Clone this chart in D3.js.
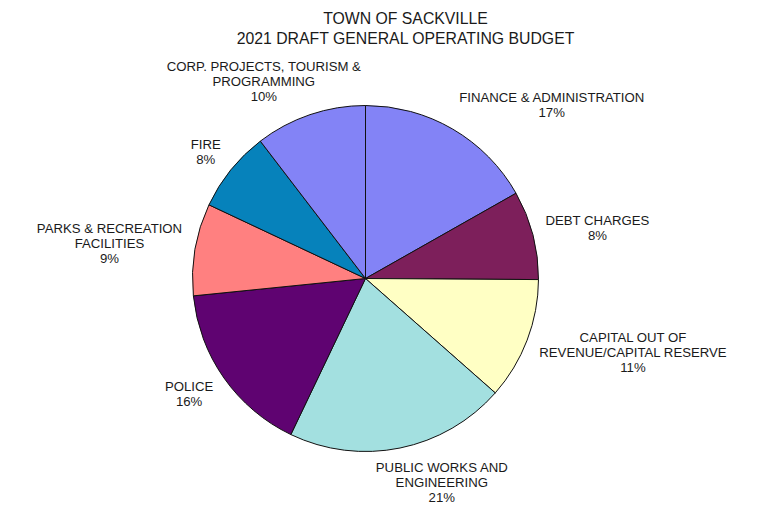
<!DOCTYPE html>
<html>
<head>
<meta charset="utf-8">
<script src="https://cdn.jsdelivr.net/npm/d3@7"></script>
<style>
  html, body { margin: 0; padding: 0; background: #fff; }
  svg { display: block; }
  text { font-family: "Liberation Sans", Arial, sans-serif; fill: #1a1a1a; }
</style>
</head>
<body>
<svg id="chart" width="768" height="525"></svg>
<script>
// ---- data ----
const titleLines = ["TOWN OF SACKVILLE", "2021 DRAFT GENERAL OPERATING BUDGET"];
const categories = [
  "FINANCE & ADMINISTRATION",
  "DEBT CHARGES",
  "CAPITAL OUT OF REVENUE/CAPITAL RESERVE",
  "PUBLIC WORKS AND ENGINEERING",
  "POLICE",
  "PARKS & RECREATION FACILITIES",
  "FIRE",
  "CORP. PROJECTS, TOURISM & PROGRAMMING"
];
const labelLines = [
  ["FINANCE & ADMINISTRATION"],
  ["DEBT CHARGES"],
  ["CAPITAL OUT OF", "REVENUE/CAPITAL RESERVE"],
  ["PUBLIC WORKS AND", "ENGINEERING"],
  ["POLICE"],
  ["PARKS & RECREATION", "FACILITIES"],
  ["FIRE"],
  ["CORP. PROJECTS, TOURISM &", "PROGRAMMING"]
];
const values = [16.8, 8.3, 11.4, 20.6, 16.3, 8.6, 7.6, 10.4];
const colors = ["#8383F6", "#7D1F5B", "#FFFFC4", "#A3E0E0", "#5F0371", "#FF8080", "#0682BB", "#8383F6"];

// ---- layout ----
const W = 768, H = 525;
const cx = 365.5, cy = 278.5, r = 173;
const labelR = 186, lineH = 15, fontSize = 13.2;

const svg = d3.select("#chart");

// title
svg.append("g").selectAll("text").data(titleLines).join("text")
  .attr("x", 405.5)
  .attr("y", (d, i) => 23.5 + i * 20)
  .attr("text-anchor", "middle")
  .attr("font-size", 15.8)
  .text(d => d);

const total = d3.sum(values);
const fmt = d3.format(".0%");
const data = categories.map((c, i) => ({
  name: c, value: values[i], color: colors[i],
  lines: labelLines[i].concat([fmt(values[i] / total)])
}));

const pie = d3.pie().value(d => d.value).sort(null);
const arcs = pie(data);
const arc = d3.arc().innerRadius(0).outerRadius(r);

const g = svg.append("g").attr("transform", `translate(${cx},${cy})`);
g.selectAll("path").data(arcs).join("path")
  .attr("d", arc)
  .attr("fill", d => d.data.color)
  .attr("stroke", "#111")
  .attr("stroke-width", 1)
  .attr("stroke-linejoin", "round");

// labels (outside-end placement)
const lg = svg.append("g");
arcs.forEach(a => {
  const th = (a.startAngle + a.endAngle) / 2;
  const s = Math.sin(th), c = Math.cos(th);
  const px = cx + s * labelR, py = cy - c * labelR;
  const t = lg.append("text").attr("font-size", fontSize).attr("text-anchor", "middle");
  const spans = t.selectAll("tspan").data(a.data.lines).join("tspan").text(d => d);
  let w = 0;
  spans.each(function () { w = Math.max(w, this.getComputedTextLength()); });
  const h = a.data.lines.length * lineH;
  const gx = Math.max(-1, Math.min(1, s * 1.97 + 0.2));
  const bx = px + gx * w / 2;
  const by = py - c * h / 2;
  spans.attr("x", bx).attr("y", (d, i) => by - h / 2 + 12 + i * lineH);
});
</script>
</body>
</html>
